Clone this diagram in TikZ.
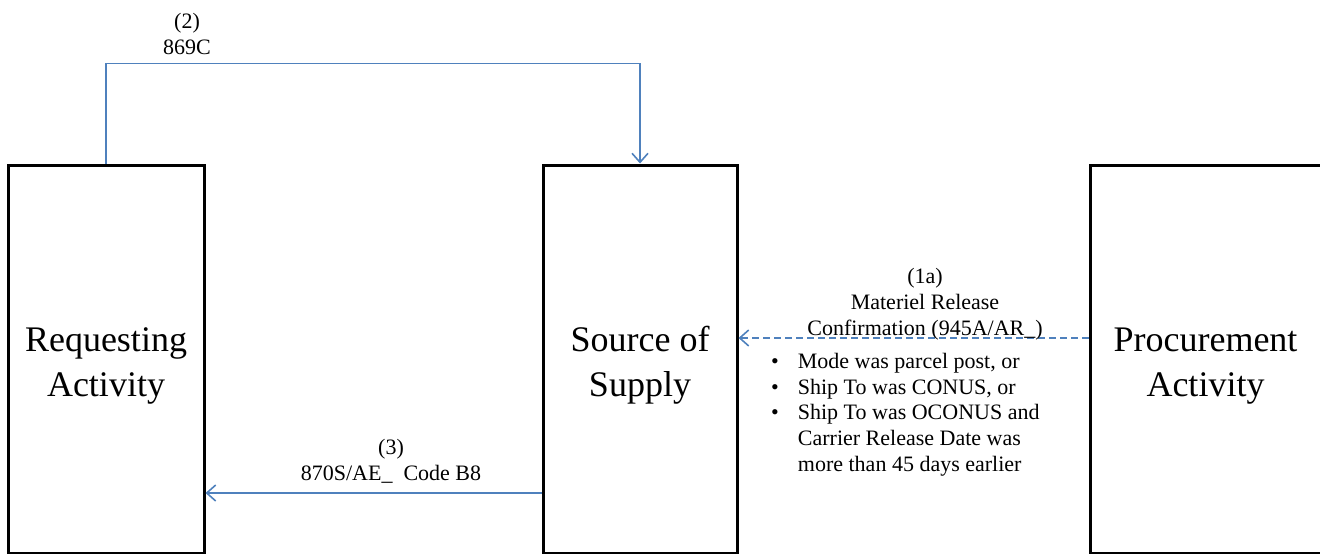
\documentclass[tikz,border=0pt]{standalone}
\usepackage{fontspec}
\setmainfont{Liberation Serif}
\usetikzlibrary{arrows.meta}
\definecolor{arrblue}{HTML}{4F81BD}
\tikzset{
  actbox/.style={draw=black, line width=3pt, minimum width=#1, minimum height=388pt, inner sep=0pt, align=center,
    font=\fontsize{36}{45}\selectfont},
  flow/.style={draw=arrblue, line width=1.8pt, -{Straight Barb[length=9pt,width=16pt,line width=1.6pt]}},
  lbl/.style={align=center, inner sep=0pt, font=\fontsize{22}{26}\selectfont}
}
\newcommand{\boxtext}[2]{\raisebox{-6pt}[\dimexpr\height+6pt\relax][\dimexpr\depth+6pt\relax]{\begin{tabular}{@{}c@{}}#1\\#2\end{tabular}}}
\begin{document}
\begin{tikzpicture}[x=1pt,y=-1pt]
\useasboundingbox (0,0) rectangle (1320,554);
\node[actbox=196pt] (req) at (106,359) {\boxtext{Requesting}{Activity}};
\node[actbox=194pt] (src) at (640,359) {\boxtext{Source of}{Supply}};
\node[actbox=231pt] (proc) at (1205.5,359) {\boxtext{Procurement}{Activity}};
\coordinate (ya) at (0,338);
\coordinate (yb) at (0,493);
% (2)
\draw[flow] (req.north) -- ++(0,-100) -| (src.north);
\node[lbl] (l2) at (187,34) {(2)\\869C};
% (1a)
\draw[flow, dashed, dash pattern=on 7pt off 4pt] (proc.west |- ya) -- (src.east |- ya);
\node[lbl] (l1a) at (925,304) {(1a)\\Materiel Release\\Confirmation (945A/AR\_)};
\node[lbl, anchor=north west, align=left, font=\fontsize{22}{25.8}\selectfont] (cond) at (771,350) {%
\begin{tabular}{@{}l@{\hspace{19pt}}l@{}}
\textbullet & Mode was parcel post, or\\
\textbullet & Ship To was CONUS, or\\
\textbullet & Ship To was OCONUS and\\
 & Carrier Release Date was\\
 & more than 45 days earlier
\end{tabular}};
% (3)
\draw[flow] (src.west |- yb) -- (req.east |- yb);
\node[lbl] (l3) at (391,461) {(3)\\870S/AE\_\ \ Code B8};
\end{tikzpicture}
\end{document}
